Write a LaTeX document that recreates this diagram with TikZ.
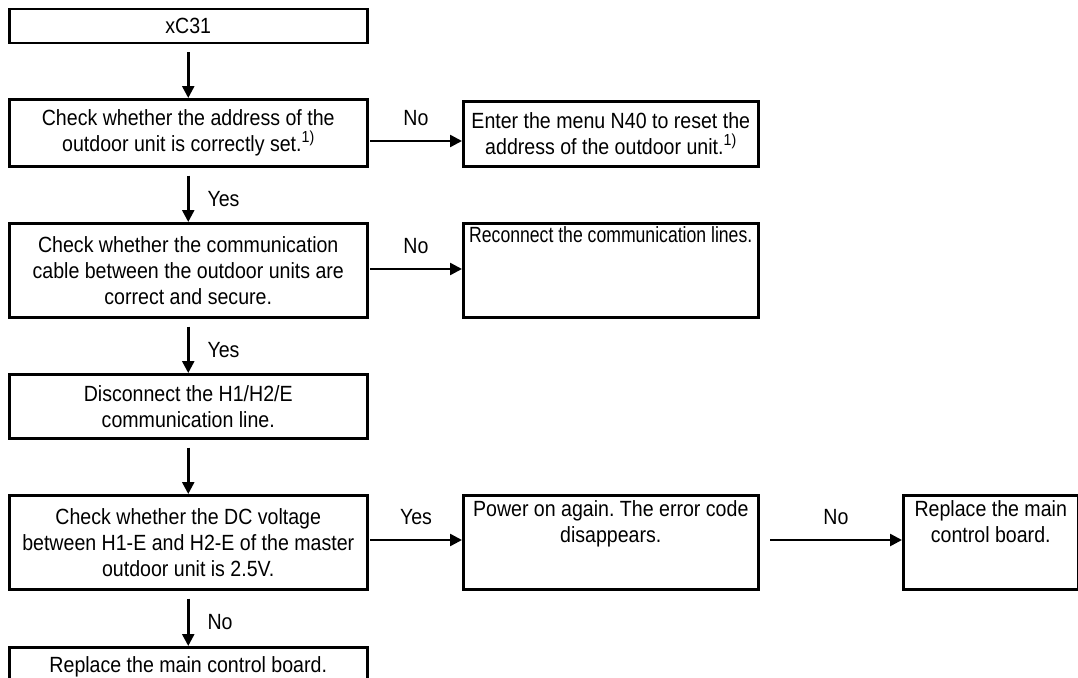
\documentclass[tikz,border=0pt]{standalone}
\usepackage{fontspec}
\setmainfont{Liberation Sans}[FakeStretch=0.89]
\usetikzlibrary{arrows.meta,calc}
\frenchspacing
\newcommand\bxt[4]{\parbox[c][#2pt][#3]{#1pt}{\centering #4}}
\newcommand\fnm{\raisebox{0.75ex}{\fontsize{16}{16}\selectfont 1)}}
\begin{document}
\begin{tikzpicture}[x=1pt,y=-1pt,
  bx/.style={draw, line width=2.5pt, inner sep=0pt, anchor=north west},
  arr/.style={line width=2.5pt, -{Triangle[length=12pt,width=12pt]}},
  lbl/.style={inner sep=0pt},
  every node/.style={font=\fontsize{22}{26}\selectfont}]
\useasboundingbox (0,0) rectangle (1078,677);
\node[bx] (b1) at (8,8) {\bxt{358}{34}{c}{xC31}};
\node[bx] (b2) at (8,98) {\bxt{358}{67}{c}{Check whether the address of the\\outdoor unit is correctly set.\fnm}};
\node[bx] (b3) at (8,222) {\bxt{358}{94}{c}{Check whether the communication\\cable between the outdoor units are\\correct and secure.}};
\node[bx] (b4) at (8,373) {\bxt{358}{64}{c}{Disconnect the H1/H2/E\\communication line.}};
\node[bx] (b5) at (8,494) {\bxt{358}{94}{c}{Check whether the DC voltage\\between H1-E and H2-E of the master\\outdoor unit is 2.5V.}};
\node[bx] (b6) at (8,646) {\bxt{358}{46}{t}{\vspace*{9pt}Replace the main control board.}};
\node[bx] (r2) at (462,100) {\bxt{295}{65}{c}{Enter the menu N40 to reset the\\address of the outdoor unit.\fnm}};
\node[bx] (r3) at (462,222) {\bxt{295}{94}{t}{\vspace*{3.5pt}\scalebox{0.9}[1]{Reconnect the communication lines.}}};
\node[bx] (r5) at (462,494) {\bxt{295}{94}{t}{\vspace*{5pt}Power on again. The error code\\disappears.}};
\node[bx] (rr5) at (902,494) {\bxt{175}{94}{t}{\vspace*{5pt}Replace the main\\control board.}};
% vertical arrows
\draw[arr] ([yshift=-8pt]b1.south) -- (b2.north);
\draw[arr] ([yshift=-8pt]b2.south) -- (b3.north) node[lbl, midway, right=18pt] {Yes};
\draw[arr] ([yshift=-8pt]b3.south) -- (b4.north) node[lbl, midway, right=18pt] {Yes};
\draw[arr] ([yshift=-8pt]b4.south) -- (b5.north);
\draw[arr] ([yshift=-8pt]b5.south) -- (b6.north) node[lbl, midway, right=18pt] {No};
% horizontal arrows
\coordinate (h2) at (370,141);
\coordinate (h3) at (370,269);
\coordinate (h5) at (370,540);
\coordinate (h5b) at (770,540);
\draw[arr] (h2) -- (h2 -| r2.west) node[lbl, midway, above=14pt] {No};
\draw[arr] (h3) -- (h3 -| r3.west) node[lbl, midway, above=14pt] {No};
\draw[arr] (h5) -- (h5 -| r5.west) node[lbl, midway, above=14pt] {Yes};
\draw[arr] (h5b) -- (h5b -| rr5.west) node[lbl, midway, above=14pt] {No};
\end{tikzpicture}
\end{document}
